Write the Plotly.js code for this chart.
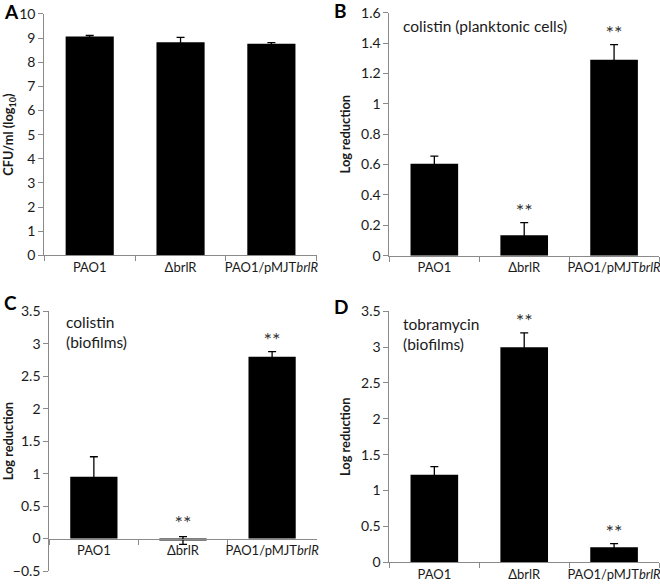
<!DOCTYPE html>
<html>
<head>
<meta charset="utf-8">
<script src="https://cdn.plot.ly/plotly-3.0.1.min.js"></script>
<style>html,body{margin:0;padding:0;background:#fff;}#chart{width:660px;height:585px;}</style>
</head>
<body>
<div id="chart"></div>
<script>
// ---- data ----
const categories = ["PAO1", "ΔbrlR", "PAO1/pMJTbrlR"];
const tickLabels = ["PAO1", "ΔbrlR", "PAO1/pMJT<i>brlR</i>"];

const cfuValues = [9.07, 8.83, 8.77];
const cfuErrors = [0.04, 0.20, 0.04];

const colPlankValues = [0.605, 0.135, 1.29];
const colPlankErrors = [0.05, 0.083, 0.10];
const colPlankSig = ["", "**", "**"];

const colBioValues = [0.95, -0.03, 2.80];
const colBioErrors = [0.31, 0.06, 0.08];
const colBioSig = ["", "**", "**"];

const tobBioValues = [1.22, 3.00, 0.21];
const tobBioErrors = [0.115, 0.20, 0.05];
const tobBioSig = ["", "**", "**"];

// ---- styling ----
const FONT = "Lato, 'Open Sans', sans-serif";
const AXIS_GREY = "#8a8a8a";
const TXT = "#1a1a1a";

function barTrace(vals, errs, xa, ya) {
  return {
    type: "bar", x: categories, y: vals, xaxis: xa, yaxis: ya,
    marker: {color: "#000000"}, width: 0.53,
    error_y: {type: "data", array: errs, visible: true, symmetric: true,
              color: "#000000", thickness: 1.3, width: 4},
    hoverinfo: "skip", showlegend: false
  };
}
function sigTrace(vals, errs, sig, xa, ya) {
  const idx = sig.map((s, i) => i).filter(i => sig[i] !== "");
  return {
    type: "scatter", mode: "text",
    x: idx.map(i => categories[i]),
    y: idx.map(i => Math.max(vals[i], 0) + errs[i]),
    text: idx.map(i => sig[i]), textposition: "top center",
    textfont: {family: FONT, size: 20, color: "#333333"},
    xaxis: xa, yaxis: ya, hoverinfo: "skip", showlegend: false, cliponaxis: false
  };
}

const traces = [
  barTrace(cfuValues, cfuErrors, "x", "y"),
  barTrace(colPlankValues, colPlankErrors, "x2", "y2"),
  sigTrace(colPlankValues, colPlankErrors, colPlankSig, "x2", "y2"),
  barTrace(colBioValues, colBioErrors, "x3", "y3"),
  sigTrace(colBioValues, colBioErrors, colBioSig, "x3", "y3"),
  barTrace(tobBioValues, tobBioErrors, "x4", "y4"),
  sigTrace(tobBioValues, tobBioErrors, tobBioSig, "x4", "y4")
];

function xAxis(domain, anchor, extra) {
  return Object.assign({
    domain: domain, anchor: anchor, type: "category",
    range: [-0.5, 2.5], tickvals: categories, ticktext: tickLabels,
    tickson: "boundaries", ticks: "outside", ticklen: 5, tickcolor: AXIS_GREY,
    tickangle: 0, automargin: false,
    showline: true, linecolor: AXIS_GREY, linewidth: 1,
    showgrid: false, zeroline: false,
    tickfont: {family: FONT, size: 13, color: TXT}, fixedrange: true
  }, extra || {});
}
function yAxis(domain, anchor, range, dtick, title, extra) {
  return Object.assign({
    domain: domain, anchor: anchor, range: range, dtick: dtick,
    ticks: "outside", ticklen: 5, tickcolor: AXIS_GREY, automargin: false,
    showline: true, linecolor: AXIS_GREY, linewidth: 1,
    showgrid: false, zeroline: false,
    tickfont: {family: FONT, size: 14, color: TXT},
    title: {text: title, font: {family: FONT, size: 12.8, color: TXT, weight: "bold"}, standoff: 7},
    fixedrange: true
  }, extra || {});
}

const yC = [0.0239, 0.4679];
const yCrange = [-0.5, 3.5];
const xCpos = yC[0] + (yC[1] - yC[0]) * (0 - yCrange[0]) / (yCrange[1] - yCrange[0]);

const layout = {
  width: 660, height: 585,
  margin: {l: 0, r: 0, t: 0, b: 0},
  paper_bgcolor: "#ffffff", plot_bgcolor: "#ffffff",
  font: {family: FONT, color: TXT},
  showlegend: false,
  xaxis: xAxis([0.0671, 0.4800], "y"),
  yaxis: yAxis([0.5636, 0.9761], "x", [0, 10], 1, "<b>CFU/ml (log<sub>10</sub>)</b>"),
  xaxis2: xAxis([0.5900, 0.9985], "y2"),
  yaxis2: yAxis([0.5629, 0.9783], "x2", [0, 1.6], 0.2, "<b>Log reduction</b>"),
  xaxis3: xAxis([0.0747, 0.4798], "free", {position: xCpos}),
  yaxis3: yAxis(yC, "x3", yCrange, 0.5, "<b>Log reduction</b>"),
  xaxis4: xAxis([0.5900, 0.9985], "y4"),
  yaxis4: yAxis([0.0388, 0.4679], "x4", [0, 3.5], 0.5, "<b>Log reduction</b>"),
  annotations: [
    {text: "<b>A</b>", x: 2 / 660, y: 1 - 11 / 585, xref: "paper", yref: "paper", xanchor: "left", yanchor: "middle", showarrow: false, font: {family: FONT, size: 19, color: "#000"}},
    {text: "<b>B</b>", x: 332 / 660, y: 1 - 10 / 585, xref: "paper", yref: "paper", xanchor: "left", yanchor: "middle", showarrow: false, font: {family: FONT, size: 19, color: "#000"}},
    {text: "<b>C</b>", x: 2 / 660, y: 1 - 302 / 585, xref: "paper", yref: "paper", xanchor: "left", yanchor: "middle", showarrow: false, font: {family: FONT, size: 19, color: "#000"}},
    {text: "<b>D</b>", x: 332 / 660, y: 1 - 306 / 585, xref: "paper", yref: "paper", xanchor: "left", yanchor: "middle", showarrow: false, font: {family: FONT, size: 19, color: "#000"}},
    {text: "colistin (planktonic cells)", x: 401 / 660, y: 1 - 26 / 585, xref: "paper", yref: "paper", xanchor: "left", yanchor: "middle", showarrow: false, font: {family: FONT, size: 15.5, color: TXT}},
    {text: "colistin<br>(biofilms)", x: 64 / 660, y: 1 - 332 / 585, xref: "paper", yref: "paper", xanchor: "left", yanchor: "middle", align: "left", showarrow: false, font: {family: FONT, size: 15.5, color: TXT}},
    {text: "tobramycin<br>(biofilms)", x: 401 / 660, y: 1 - 334 / 585, xref: "paper", yref: "paper", xanchor: "left", yanchor: "middle", align: "left", showarrow: false, font: {family: FONT, size: 15.5, color: TXT}}
  ]
};

Plotly.newPlot("chart", traces, layout, {staticPlot: true, displayModeBar: false});
</script>
</body>
</html>
